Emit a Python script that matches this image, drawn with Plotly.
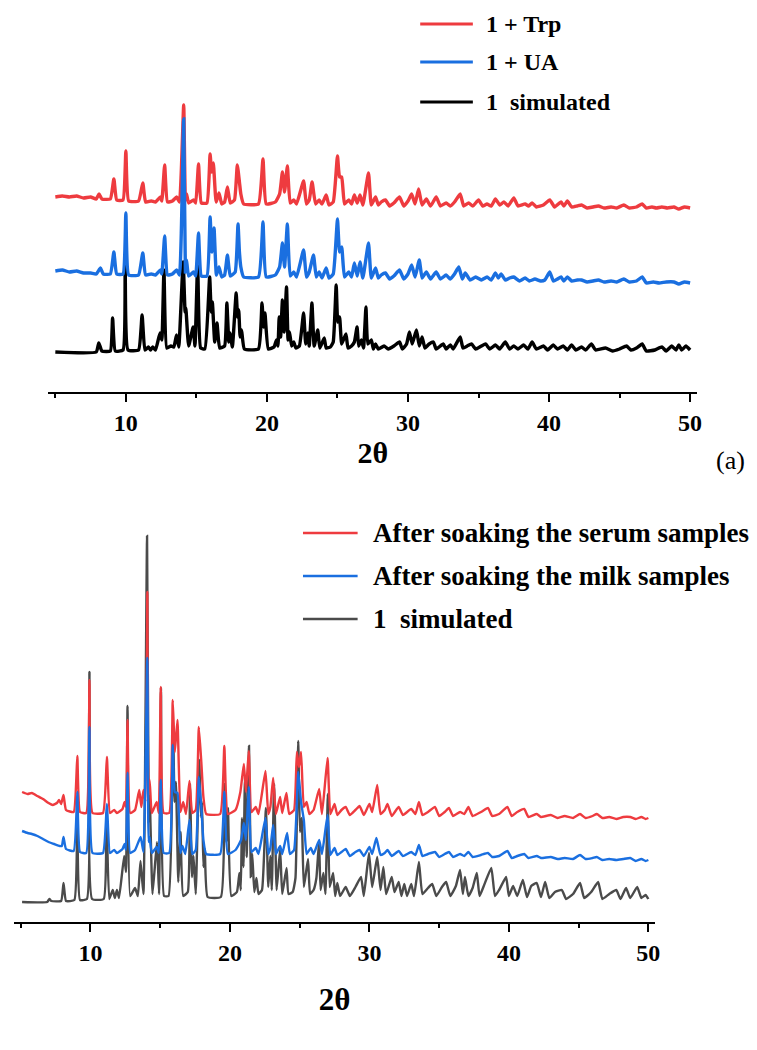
import plotly.graph_objects as go

W, H = 757, 1050

# ---------------- data (2θ, stacked intensity in a.u.) ----------------
# Panel (a): "1 simulated" (offset 0), "1 + UA", "1 + Trp"
top_sim = [(5.0,0),(7.9,0),(8.08,9),(8.3,1),(8.9,1),(9.06,34),(9.25,1),(9.8,2),(9.95,97),(10.15,2),(10.9,2),
 (11.15,37),(11.35,2),(11.6,5),(11.75,2),(11.9,5),(12.1,2),(12.42,19),(12.55,12),(12.70,82),(12.9,4),(13.2,6),
 (13.4,5),(13.59,17),(13.75,5),(14.06,90),(14.2,40),(14.25,44),(14.45,6),(14.77,25),(14.9,6),(15.09,89),(15.3,4),
 (15.6,3),(15.94,75),(16.05,40),(16.13,50),(16.3,10),(16.46,29),(16.65,4),(17.0,6),(17.16,49),(17.3,10),(17.39,19),
 (17.55,5),(17.82,59),(17.92,35),(18.0,42),(18.1,15),(18.2,22),(18.4,3),(19.4,3),(19.65,49),(19.76,25),(19.86,39),
 (20.1,3),(20.5,5),(20.68,12),(20.78,6),(20.87,35),(20.97,15),(21.1,52),(21.22,20),(21.39,65),(21.5,12),(21.6,20),
 (21.75,6),(21.9,10),(22.05,4),(22.3,6),(22.6,39),(22.75,8),(22.9,19),(23.0,6),(23.19,49),(23.35,6),(23.6,22),
 (23.75,4),(24.06,14),(24.2,4),(24.5,5),(24.7,10),(24.91,67),(25.02,30),(25.15,35),(25.3,8),(25.6,18),(25.75,4),
 (26.0,6),(26.2,10),(26.39,25),(26.5,6),(26.7,12),(26.85,4),(27.02,45),(27.15,8),(27.4,12),(27.55,3),(27.7,8),
 (27.9,3),(28.3,6),(28.6,3),(29.0,6),(29.4,10),(29.6,3),(29.9,8),(30.1,20),(30.3,8),(30.6,22),(30.8,6),(31.0,15),
 (31.2,4),(31.5,8),(31.8,10),(32.0,3),(32.5,8),(32.7,3),(33.0,7),(33.2,3),(33.7,15),(33.9,4),(34.2,6),(34.5,8),
 (34.8,3),(35.2,6),(35.5,8),(35.8,3),(36.2,7),(36.5,3),(36.9,10),(37.2,3),(37.5,6),(37.8,3),(38.2,7),(38.5,3),
 (38.8,10),(39.1,3),(39.6,6),(39.9,2),(40.3,7),(40.6,3),(41.0,6),(41.3,2),(41.6,7),(41.9,2),(42.3,5),(42.6,2),
 (43.0,8),(43.3,2),(44.0,4),(44.5,1),(45.0,3),(45.5,6),(45.8,2),(46.2,4),(46.6,8),(46.9,1),(47.5,2),(48.0,5),
 (48.3,1),(48.7,6),(49.0,2),(49.2,7),(49.4,2),(49.7,6),(50.0,2)]

top_ua = [(5.0,81),(5.5,82),(6.0,80),(6.5,81),(7.0,79),(7.5,79),(7.9,78),(8.2,84),(8.4,78),(8.9,78),(9.15,100),
 (9.35,78),(9.8,78),(10.0,139),(10.2,77),(10.9,77),(11.2,99),(11.4,77),(11.8,78),(12.1,77),(12.45,82),(12.55,78),
 (12.75,116),(12.95,77),(13.3,78),(13.6,82),(13.8,77),(14.1,233),(14.22,80),(14.3,92),(14.45,76),(14.8,80),
 (14.95,76),(15.15,119),(15.35,76),(15.75,76),(15.97,135),(16.1,100),(16.25,124),(16.42,77),(16.6,85),(16.8,75),
 (17.0,77),(17.2,97),(17.4,76),(17.75,80),(17.95,128),(18.05,100),(18.15,85),(18.35,75),(19.4,75),(19.72,130),
 (19.95,75),(20.6,77),(20.9,85),(21.1,109),(21.25,85),(21.45,128),(21.65,76),(21.9,80),(22.1,75),(22.6,102),
 (22.8,75),(23.0,80),(23.3,97),(23.5,75),(23.7,80),(23.9,74),(24.2,84),(24.4,74),(24.7,78),(25.0,133),(25.15,100),
 (25.3,105),(25.5,75),(25.8,80),(26.0,75),(26.2,89),(26.4,76),(26.6,90),(26.8,74),(27.2,109),(27.4,74),(27.7,84),
 (27.9,74),(28.1,77),(28.4,79),(28.7,73),(29.0,76),(29.4,82),(29.7,73),(30.0,78),(30.26,87),(30.5,75),(30.8,92),
 (31.0,74),(31.3,80),(31.6,73),(32.0,80),(32.3,73),(32.7,77),(33.0,73),(33.3,78),(33.6,85),(33.85,73),(34.06,79),
 (34.4,72),(34.8,75),(35.2,72),(35.6,75),(35.9,72),(36.2,79),(36.4,74),(36.6,78),(36.9,72),(37.2,74),(37.5,75),
 (37.9,71),(38.3,74),(38.6,71),(39.0,73),(39.4,71),(39.7,72),(40.05,80),(40.3,71),(40.6,73),(40.85,75),(41.05,71),
 (41.3,75),(41.6,71),(42.0,72),(42.3,72),(42.7,70),(43.1,71),(43.5,72),(43.9,70),(44.4,71),(44.8,70),(45.3,73),
 (45.7,70),(46.2,71),(46.6,75),(46.9,69),(47.4,70),(47.8,69),(48.3,70),(48.85,70),(49.2,68),(49.6,70),(50.0,69)]

top_trp = [(5.0,155),(5.5,156),(6.0,155),(6.5,156),(7.0,154),(7.5,155),(7.9,153),(8.1,158),(8.3,153),(8.9,153),
 (9.15,173),(9.35,152),(9.8,152),(10.0,201),(10.2,151),(10.9,151),(11.2,169),(11.4,150),(11.8,151),(12.1,150),
 (12.45,155),(12.55,151),(12.75,187),(12.95,150),(13.3,151),(13.6,155),(13.8,150),(14.1,247),(14.22,152),
 (14.3,158),(14.45,149),(14.8,152),(14.95,149),(15.15,188),(15.35,149),(15.75,149),(15.97,198),(16.08,180),
 (16.2,189),(16.4,150),(16.6,159),(16.8,148),(17.0,150),(17.2,165),(17.4,149),(17.7,152),(17.9,187),(18.05,170),
 (18.15,158),(18.35,148),(19.4,148),(19.72,193),(19.95,148),(20.6,150),(20.9,158),(21.1,180),(21.25,160),
 (21.45,186),(21.65,149),(21.9,152),(22.1,148),(22.6,171),(22.8,148),(23.0,152),(23.2,170),(23.45,148),(23.7,152),
 (23.9,148),(24.2,157),(24.4,147),(24.7,150),(25.0,196),(25.15,175),(25.3,175),(25.5,148),(25.8,152),(26.0,148),
 (26.2,157),(26.4,149),(26.6,157),(26.8,147),(27.2,179),(27.4,147),(27.7,155),(27.9,147),(28.1,150),(28.4,152),
 (28.7,146),(29.0,149),(29.4,155),(29.7,146),(30.0,151),(30.26,158),(30.5,148),(30.75,163),(31.0,147),(31.3,153),
 (31.6,146),(32.0,155),(32.3,146),(32.7,149),(33.0,146),(33.3,150),(33.7,158),(33.95,146),(34.3,149),(34.6,146),
 (35.0,152),(35.3,146),(35.6,148),(35.9,146),(36.2,153),(36.5,147),(36.8,150),(37.1,146),(37.5,154),(37.8,146),
 (38.3,148),(38.55,146),(38.8,149),(39.1,145),(39.6,147),(40.05,152),(40.4,145),(40.85,150),(41.05,146),
 (41.3,151),(41.6,145),(42.0,146),(42.3,147),(42.7,144),(43.1,145),(43.5,146),(43.9,144),(44.4,145),(44.8,144),
 (45.3,147),(45.7,144),(46.2,145),(46.6,148),(46.9,144),(47.3,145),(47.6,144),(48.0,145),(48.4,144),(48.85,145),
 (49.2,143),(49.6,145),(50.0,144)]

# Panel (b): "1 simulated", "After soaking the milk samples", "After soaking the serum samples"
bot_sim = [(5.1,0),(6.9,0),(7.06,3),(7.2,1),(7.9,1),(8.07,19),(8.25,1),(8.85,2),(9.06,82),(9.25,2),(9.75,3),
 (9.93,230),(10.12,3),(10.95,3),(11.15,89),(11.35,3),(11.6,12),(11.75,4),(11.9,12),(12.05,4),(12.42,46),(12.55,30),
 (12.66,196),(12.85,6),(13.2,14),(13.4,6),(13.59,41),(13.8,8),(14.06,366),(14.18,80),(14.25,106),(14.45,8),
 (14.77,60),(14.92,8),(15.06,214),(15.28,6),(15.6,6),(15.92,180),(16.03,100),(16.13,120),(16.3,20),(16.46,70),
 (16.65,6),(16.98,10),(17.14,118),(17.28,25),(17.39,46),(17.55,8),(17.8,142),(17.92,85),(18.0,100),(18.1,35),
 (18.2,53),(18.4,5),(19.35,5),(19.62,118),(19.75,60),(19.86,94),(20.1,6),(20.5,10),(20.68,29),(20.78,12),
 (20.87,84),(20.97,35),(21.08,125),(21.2,45),(21.37,156),(21.5,25),(21.6,48),(21.75,10),(21.9,24),(22.05,8),
 (22.3,12),(22.58,94),(22.75,15),(22.9,46),(23.0,12),(23.17,118),(23.35,12),(23.6,53),(23.75,8),(24.06,34),
 (24.2,8),(24.5,10),(24.7,24),(24.9,161),(25.02,70),(25.15,84),(25.3,15),(25.6,43),(25.75,8),(26.0,12),(26.2,24),
 (26.39,60),(26.5,12),(26.7,29),(26.85,8),(27.02,108),(27.15,15),(27.4,29),(27.55,6),(27.7,19),(27.9,6),(28.3,15),
 (28.6,6),(29.0,15),(29.4,25),(29.6,6),(29.97,49),(30.2,15),(30.56,45),(30.8,12),(31.0,35),(31.2,8),(31.6,25),
 (31.8,10),(32.1,20),(32.3,6),(32.5,18),(32.7,6),(33.0,18),(33.2,6),(33.55,40),(33.8,8),(34.2,14),(34.5,18),
 (34.8,6),(35.2,15),(35.5,20),(35.8,6),(36.2,16),(36.5,32),(36.7,8),(36.85,25),(37.1,6),(37.4,14),(37.7,29),
 (37.9,6),(38.2,16),(38.74,34),(39.0,6),(39.3,12),(39.8,25),(40.0,6),(40.3,16),(40.6,6),(41.0,22),(41.3,5),
 (41.6,16),(42.0,19),(42.3,5),(42.6,20),(42.9,4),(43.3,10),(43.8,12),(44.1,3),(44.6,8),(45.1,19),(45.4,4),
 (45.9,10),(46.4,20),(46.7,3),(47.2,8),(47.7,12),(48.0,3),(48.4,14),(48.7,4),(49.2,15),(49.5,4),(49.8,7),(50.0,3)]

bot_milk = [(5.1,71),(5.5,69),(5.8,68),(6.2,66),(6.6,63),(7.0,60),(7.4,58),(7.8,56),(7.95,56),(8.07,65),(8.25,53),
 (8.8,51),(9.06,110),(9.25,50),(9.7,49),(9.93,175),(10.15,49),(10.9,49),(11.18,98),(11.4,49),(11.7,52),(11.9,49),
 (12.3,53),(12.45,58),(12.55,52),(12.66,129),(12.85,49),(13.2,52),(13.6,65),(13.8,50),(14.08,244),(14.17,60),
 (14.24,65),(14.4,49),(14.75,55),(14.9,49),(15.04,122),(15.25,49),(15.65,49),(15.9,157),(16.05,110),(16.24,109),
 (16.45,49),(16.6,56),(16.8,48),(17.1,82),(17.3,48),(17.55,52),(17.77,125),(17.95,95),(18.1,62),(18.3,48),
 (19.3,48),(19.6,110),(19.85,48),(20.4,52),(20.8,62),(21.0,79),(21.15,62),(21.35,115),(21.55,50),(21.85,54),
 (22.05,48),(22.55,84),(22.75,48),(22.9,54),(23.1,77),(23.3,48),(23.6,56),(23.75,48),(24.1,69),(24.3,48),
 (24.6,52),(24.9,130),(25.1,100),(25.3,82),(25.5,48),(25.8,54),(26.0,48),(26.4,62),(26.6,48),(27.0,87),(27.2,47),
 (27.5,54),(27.7,47),(28.0,50),(28.3,53),(28.6,46),(29.0,50),(29.3,52),(29.6,46),(30.0,55),(30.2,48),(30.5,64),
 (30.8,47),(31.1,49),(31.3,52),(31.6,46),(32.1,51),(32.4,46),(33.0,50),(33.3,47),(33.55,57),(33.8,46),(34.2,48),
 (34.7,50),(35.0,45),(35.4,48),(35.7,50),(36.0,45),(36.5,48),(36.8,46),(37.1,50),(37.4,45),(38.0,47),(38.5,49),
 (38.8,45),(39.3,46),(39.9,51),(40.2,44),(40.6,46),(41.1,48),(41.4,44),(42.0,46),(42.3,44),(43.0,45),(43.5,43),
 (44.0,44),(44.6,43),(45.1,47),(45.5,43),(46.0,44),(46.3,45),(46.7,42),(47.2,43),(47.7,42),(48.2,43),(48.7,44),
 (49.1,41),(49.5,43),(49.8,41),(50.0,42)]

bot_serum = [(5.1,110),(5.5,108),(5.8,109),(6.2,106),(6.6,103),(7.0,99),(7.3,97),(7.6,99),(7.75,102),(7.9,98),
 (8.07,107),(8.25,92),(8.8,90),(9.06,146),(9.25,90),(9.7,89),(9.93,222),(10.15,89),(10.9,89),(11.18,145),(11.4,89),
 (11.7,92),(11.9,89),(12.3,93),(12.45,100),(12.55,95),(12.66,182),(12.85,89),(13.2,92),(13.5,112),(13.65,95),
 (13.8,112),(13.95,100),(14.08,310),(14.17,120),(14.24,122),(14.4,89),(14.75,100),(14.9,89),(15.04,215),
 (15.25,89),(15.65,89),(15.9,202),(16.05,150),(16.24,182),(16.45,90),(16.65,100),(16.85,88),(17.1,121),(17.3,89),
 (17.55,92),(17.77,175),(17.95,140),(18.1,105),(18.3,88),(19.3,88),(19.6,156),(19.85,88),(20.4,92),(20.75,110),
 (21.0,138),(21.15,110),(21.35,151),(21.55,90),(21.85,95),(22.05,88),(22.55,131),(22.75,88),(22.9,95),(23.1,124),
 (23.3,88),(23.6,105),(23.75,89),(24.05,109),(24.25,88),(24.6,92),(24.8,150),(24.95,135),(25.1,150),(25.3,95),
 (25.5,100),(25.7,88),(26.0,92),(26.4,113),(26.6,88),(27.0,144),(27.2,88),(27.5,98),(27.7,87),(28.0,92),(28.3,95),
 (28.6,87),(29.0,92),(29.3,96),(29.6,87),(30.0,98),(30.2,90),(30.56,117),(30.8,88),(31.1,92),(31.3,98),(31.6,86),
 (32.1,95),(32.4,87),(33.0,93),(33.3,88),(33.55,100),(33.8,87),(34.2,90),(34.7,95),(35.0,86),(35.4,90),(35.7,94),
 (36.0,86),(36.5,90),(36.8,88),(37.1,95),(37.4,86),(38.0,90),(38.5,94),(38.8,86),(39.3,88),(39.9,95),(40.2,86),
 (40.6,90),(41.1,93),(41.4,85),(42.0,88),(42.3,85),(43.0,87),(43.5,84),(44.0,86),(44.6,84),(45.1,88),(45.5,84),
 (46.0,86),(46.3,88),(46.7,84),(47.2,85),(47.7,83),(48.2,85),(48.7,85),(49.1,83),(49.5,85),(49.8,83),(50.0,84)]

top_names = ["1 + Trp", "1 + UA", "1  simulated"]
bot_names = ["After soaking the serum samples", "After soaking the milk samples", "1  simulated"]
tick_vals = [10, 20, 30, 40, 50]
minor_vals = [5, 15, 25, 35, 45]

RED, BLUE, BLACK, GRAY = "#ee3b3f", "#1a6fe0", "#000000", "#4b4b4b"
FONT = "Liberation Serif"

def xs(p):
    return [a for a, _ in p]

def ys(p):
    return [b for _, b in p]

fig = go.Figure()
# panel (a): black first, then red, blue on top
for pts, name, col in [(top_sim, top_names[2], BLACK), (top_trp, top_names[0], RED), (top_ua, top_names[1], BLUE)]:
    fig.add_trace(go.Scatter(x=xs(pts), y=ys(pts), mode="lines", name=name, showlegend=False,
                             line=dict(color=col, width=3.4, shape="spline", smoothing=0.4),
                             xaxis="x", yaxis="y"))
# panel (b)
for pts, name, col in [(bot_sim, bot_names[2], GRAY), (bot_serum, bot_names[0], RED), (bot_milk, bot_names[1], BLUE)]:
    fig.add_trace(go.Scatter(x=xs(pts), y=ys(pts), mode="lines", name=name, showlegend=False,
                             line=dict(color=col, width=2.4, shape="spline", smoothing=0.4),
                             xaxis="x2", yaxis="y2"))

def px_x(v):
    return v / W

def px_y(v):
    return 1 - v / H

axis_common = dict(range=[4.5, 50.5], showline=True, linecolor="black", linewidth=2, showgrid=False,
                   zeroline=False, ticks="outside", ticklen=8, tickwidth=2, tickcolor="black",
                   tickvals=tick_vals, ticktext=[str(v) for v in tick_vals],
                   minor=dict(tickvals=minor_vals, ticks="outside", ticklen=4, tickwidth=2, tickcolor="black"))

fig.update_layout(
    width=W, height=H, margin=dict(l=0, r=0, t=0, b=0),
    paper_bgcolor="white", plot_bgcolor="white", showlegend=False,
    font=dict(family=FONT, color="black"),
    xaxis=dict(domain=[px_x(48.6), px_x(701.8)], anchor="y",
               tickfont=dict(family=FONT, size=24, weight="bold", color="black"),
               title=dict(text="2θ", font=dict(family=FONT, size=30, weight="bold", color="black"), standoff=7),
               **axis_common),
    yaxis=dict(domain=[px_y(392), px_y(100)], range=[-40, 252], visible=False),
    xaxis2=dict(domain=[px_x(13.8), px_x(659.7)], anchor="y2",
                tickfont=dict(family=FONT, size=24, weight="bold", color="black"),
                title=dict(text="2θ", font=dict(family=FONT, size=31, weight="bold", color="black"), standoff=24),
                **axis_common),
    yaxis2=dict(domain=[px_y(922), px_y(530)], range=[-20, 372], visible=False),
)

shapes = []
annotations = []
# legend, panel (a)
for name, col, yy in zip(top_names, [RED, BLUE, BLACK], [24, 62, 102]):
    shapes.append(dict(type="line", xref="paper", yref="paper", x0=px_x(423), x1=px_x(476),
                       y0=px_y(yy), y1=px_y(yy), line=dict(color=col, width=3)))
    annotations.append(dict(text=name, xref="paper", yref="paper", x=px_x(487), y=px_y(yy),
                            xanchor="left", yanchor="middle", showarrow=False,
                            font=dict(family=FONT, size=24, weight="bold", color="black")))
# legend, panel (b)
for name, col, yy in zip(bot_names, [RED, BLUE, GRAY], [533, 576, 619]):
    shapes.append(dict(type="line", xref="paper", yref="paper", x0=px_x(305), x1=px_x(360),
                       y0=px_y(yy), y1=px_y(yy), line=dict(color=col, width=2.5)))
    annotations.append(dict(text=name, xref="paper", yref="paper", x=px_x(373), y=px_y(yy),
                            xanchor="left", yanchor="middle", showarrow=False,
                            font=dict(family=FONT, size=27, weight="bold", color="black")))
annotations.append(dict(text="(a)", xref="paper", yref="paper", x=px_x(735), y=px_y(461),
                        xanchor="center", yanchor="middle", showarrow=False,
                        font=dict(family=FONT, size=26, color="black")))
fig.update_layout(shapes=shapes, annotations=annotations)

fig.write_html("out.html")
